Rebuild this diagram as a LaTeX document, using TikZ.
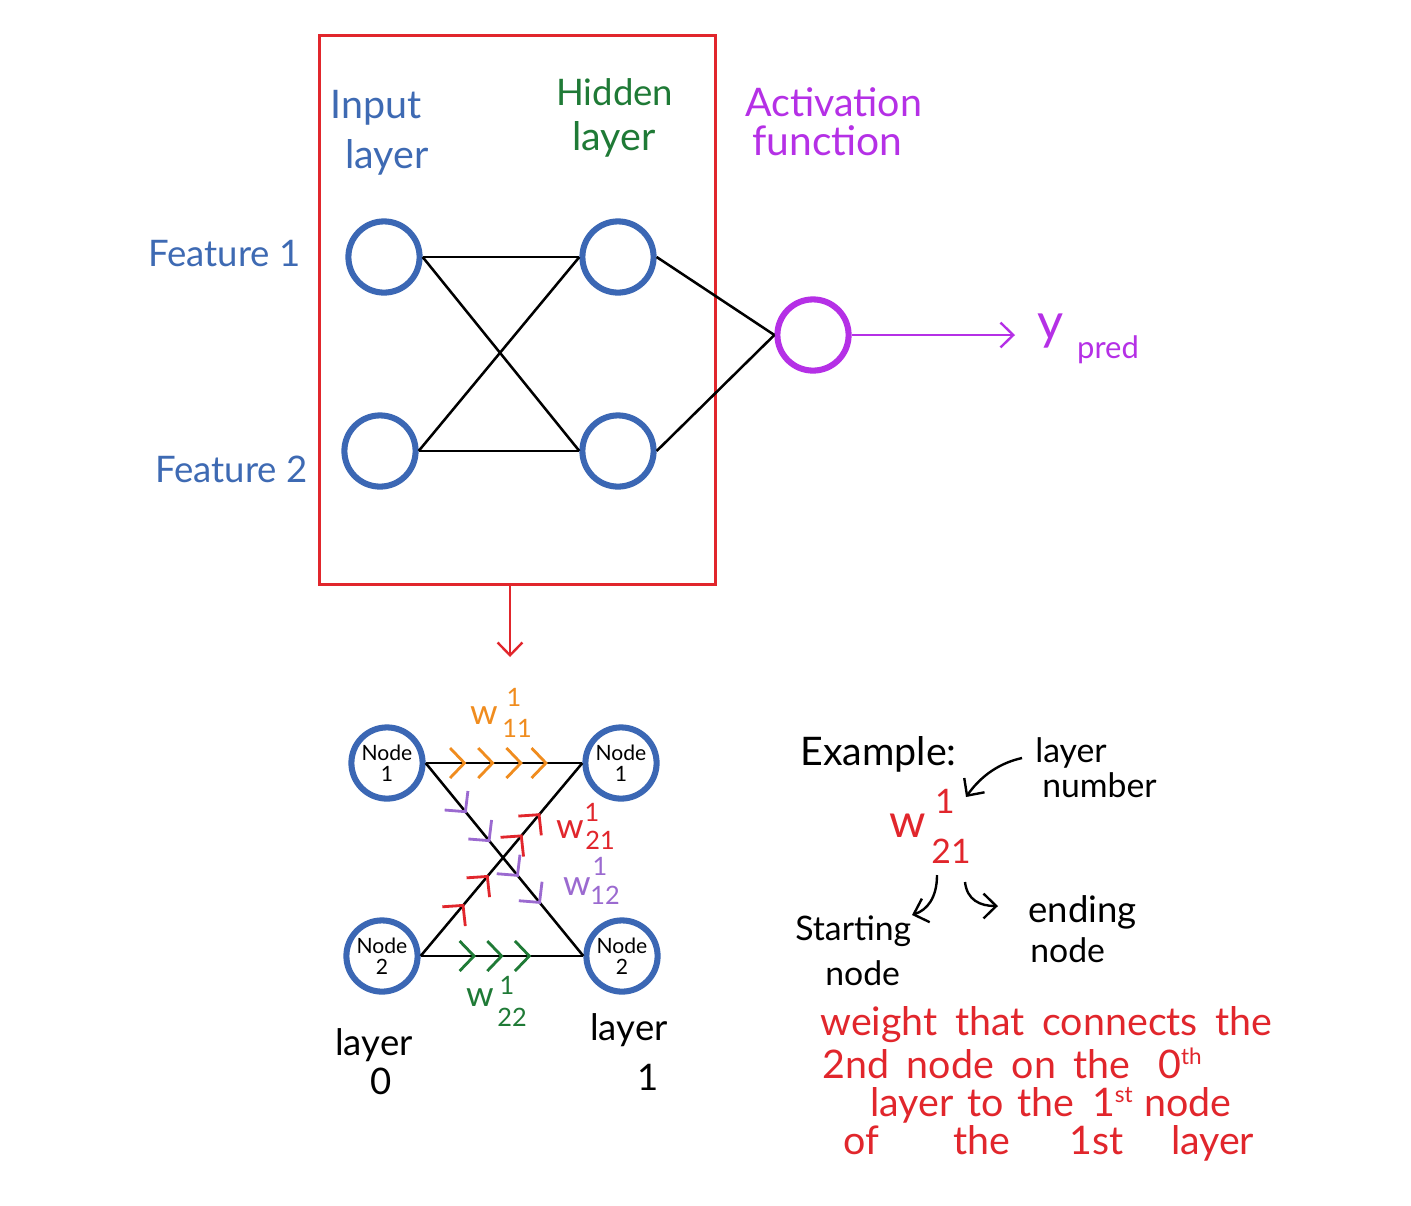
\documentclass[tikz,border=0pt]{standalone}
\usepackage{fontspec}
\setmainfont{Lato}
\usetikzlibrary{arrows.meta,decorations.markings}
\definecolor{nblue}{HTML}{3B67B4}
\definecolor{tblue}{HTML}{3E6AB3}
\definecolor{hgreen}{HTML}{1F7A36}
\definecolor{apurple}{HTML}{B530E6}
\definecolor{wpurple}{HTML}{9B6AD0}
\definecolor{worange}{HTML}{F08C1E}
\definecolor{rred}{HTML}{E1262C}
\newcommand{\myfs}[1]{\fontsize{#1}{#1}\selectfont}
\newcommand{\cv}[1]{\arrow[#1,line width=2pt]{Straight Barb[length=0.36cm,width=0.75cm]}}
\tikzset{
  neuron/.style={circle, draw=nblue, line width=4.3pt, minimum size=1.78cm, inner sep=0pt},
  wire/.style={draw=black, line width=1.8pt},
  lbl/.style={anchor=base west, inner sep=0pt},
  barb/.style={-{Straight Barb[length=0.32cm,width=0.62cm]}, line width=1.7pt},
  idx/.style={inner sep=0pt, font=\myfs{18}},
  wch/.style={inner sep=0pt, font=\myfs{25}},
  nlab/.style={neuron, align=center, font=\myfs{15}},
}
\begin{document}
\begin{tikzpicture}[x=0.025cm,y=-0.025cm]
\useasboundingbox[fill=white] (0,0) rectangle (1411,1205);

% ---------- top network ----------
\node[draw=rred, line width=1.8pt, minimum width=9.9cm, minimum height=13.725cm, anchor=north west, inner sep=0pt] (box) at (318,34) {};

\node[neuron] (i1) at (384,257) {};
\node[neuron] (i2) at (380,451) {};
\node[neuron] (h1) at (618,257) {};
\node[neuron] (h2) at (618,451) {};
\node[neuron, draw=apurple] (o) at (813,335) {};

\draw[wire] (i1.east) -- (h1.west);
\draw[wire] (i2.east) -- (h2.west);
\draw[wire] (i1.east) -- (h2.west);
\draw[wire] (i2.east) -- (h1.west);
\draw[wire] (h1.east) -- (o.west);
\draw[wire] (h2.east) -- (o.west);

\coordinate (yend) at (1015,335);
\draw[barb, apurple] (o.east) -- (yend);
\node[inner sep=0pt, text=apurple, font=\myfs{36}] (y) at (1051,331) {y};
\node[inner sep=0pt, text=apurple, font=\myfs{22}] (pred) at (1108,350) {pred};

\node[lbl, text=tblue, font=\myfs{26}] (f1) at (148,266) {Feature 1};
\node[lbl, text=tblue, font=\myfs{26}] (f2) at (155,482) {Feature 2};
\node[lbl, text=tblue, font=\myfs{28}] (inp) at (330,118) {Input};
\node[lbl, text=tblue, font=\myfs{28}] (inl) at (345,168) {layer};
\node[lbl, text=hgreen, font=\myfs{26}] (hid) at (556,105) {Hidden};
\node[lbl, text=hgreen, font=\myfs{28}] (hil) at (572,150) {layer};
\node[lbl, text=apurple, font=\myfs{28}] (act) at (745,116) {Activation};
\node[lbl, text=apurple, font=\myfs{29}] (fun) at (752,155) {function};

\coordinate (downend) at (510,657);
\draw[barb, rred] (box.south -| downend) -- (downend);

% ---------- bottom network ----------
\node[nlab] (a1) at (387,763) {Node\\1};
\node[nlab] (a2) at (382,956) {Node\\2};
\node[nlab] (b1) at (621,763) {Node\\1};
\node[nlab] (b2) at (622,956) {Node\\2};

\draw[wire, postaction={decorate}, decoration={markings,
  mark=at position 0.26 with {\cv{worange}},
  mark=at position 0.44 with {\cv{worange}},
  mark=at position 0.62 with {\cv{worange}},
  mark=at position 0.78 with {\cv{worange}}}] (a1.east) -- (b1.west);
\draw[wire, postaction={decorate}, decoration={markings,
  mark=at position 0.34 with {\cv{hgreen}},
  mark=at position 0.51 with {\cv{hgreen}},
  mark=at position 0.68 with {\cv{hgreen}}}] (a2.east) -- (b2.west);
\draw[wire, postaction={decorate}, decoration={markings,
  mark=at position 0.26 with {\cv{wpurple}},
  mark=at position 0.41 with {\cv{wpurple}},
  mark=at position 0.59 with {\cv{wpurple}},
  mark=at position 0.73 with {\cv{wpurple}}}] (a1.east) -- (b2.west);
\draw[wire, postaction={decorate}, decoration={markings,
  mark=at position 0.27 with {\cv{rred}},
  mark=at position 0.42 with {\cv{rred}},
  mark=at position 0.63 with {\cv{rred}},
  mark=at position 0.74 with {\cv{rred}}}] (a2.east) -- (b1.west);

% weight labels
\node[wch, text=worange] (w11) at (484,716) {w};
\node[idx, text=worange] (w11s) at (514,697) {1};
\node[idx, text=worange] (w11b) at (517,728) {11};
\node[wch, text=rred] (w21) at (570,830) {w};
\node[idx, text=rred] (w21s) at (592,812) {1};
\node[idx, text=rred] (w21b) at (600,840) {21};
\node[wch, text=wpurple] (w12) at (577,887) {w};
\node[idx, text=wpurple] (w12s) at (600,866) {1};
\node[idx, text=wpurple] (w12b) at (605,895) {12};
\node[wch, text=hgreen] (w22) at (480,998) {w};
\node[idx, text=hgreen] (w22s) at (507,985) {1};
\node[idx, text=hgreen] (w22b) at (512,1017) {22};

\node[lbl, font=\myfs{26}] (l0a) at (335,1055) {layer};
\node[lbl, font=\myfs{26}] (l0b) at (370,1094) {0};
\node[lbl, font=\myfs{26}] (l1a) at (590,1040) {layer};
\node[lbl, font=\myfs{26}] (l1b) at (637,1090) {1};

% ---------- example ----------
\node[lbl, font=\myfs{28}] (ex) at (800,765) {Example:};
\node[lbl, font=\myfs{24}] (ln1) at (1035,762) {layer};
\node[lbl, font=\myfs{24}] (ln2) at (1042,797) {number};
\node[inner sep=0pt, text=rred, font=\myfs{33}] (ew) at (908,826) {w};
\node[inner sep=0pt, text=rred, font=\myfs{24}] (ews) at (945,801) {1};
\node[inner sep=0pt, text=rred, font=\myfs{24}] (ewb) at (951,851) {21};
\node[lbl, font=\myfs{24}] (st1) at (795,940) {Starting};
\node[lbl, font=\myfs{24}] (st2) at (825,985) {node};
\node[lbl, font=\myfs{26}] (en1) at (1028,922) {ending};
\node[lbl, font=\myfs{24}] (en2) at (1030,962) {node};

\coordinate (lnA) at (1022,758);
\coordinate (lnB) at (966,797);
\draw[barb] (lnA) .. controls (995,764) and (978,780) .. (lnB);
\coordinate (stA) at (937,875);
\coordinate (stB) at (912,915);
\draw[barb] (stA) .. controls (937,898) and (927,910) .. (stB);
\coordinate (enA) at (965,882);
\coordinate (enB) at (998,906);
\draw[barb] (enA) .. controls (967,900) and (980,906) .. (enB);

\node[lbl, text=rred, font=\myfs{28}] (p1) at (820,1035) {weight\hspace{0.45em}that\hspace{0.45em}connects\hspace{0.45em}the};
\node[lbl, text=rred, font=\myfs{28}] (p2) at (822,1078) {2nd\hspace{0.45em}node\hspace{0.45em}on\hspace{0.45em}the\hspace{0.7em}0\raisebox{0.35em}{\myfs{16}th}};
\node[lbl, text=rred, font=\myfs{28}] (p3) at (870,1116) {layer\hspace{0.35em}to\hspace{0.35em}the\hspace{0.45em}1\raisebox{0.35em}{\myfs{16}st}\hspace{0.3em}node};
\node[lbl, text=rred, font=\myfs{28}] (p4) at (843,1154) {of\hspace{1.9em}the\hspace{1.5em}1st\hspace{1.2em}layer};
\end{tikzpicture}
\end{document}
